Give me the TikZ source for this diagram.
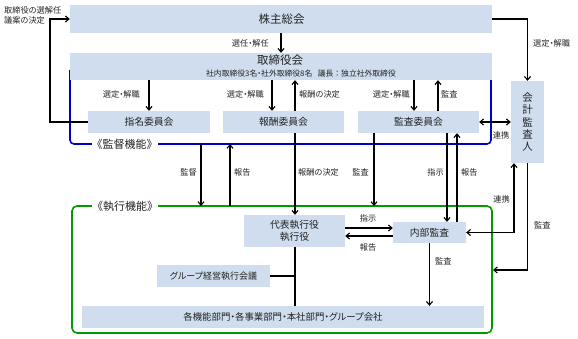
\documentclass[tikz,border=0pt]{standalone}
\usepackage{fontspec}
\setmainfont[RawFeature=+palt]{Noto Sans CJK JP}
\newfontfamily\fullw{Noto Sans CJK JP}
\usetikzlibrary{arrows.meta}
\definecolor{boxfill}{RGB}{207,221,238}
\definecolor{frameblue}{RGB}{0,0,200}
\definecolor{framegreen}{RGB}{0,155,0}
\definecolor{txt}{RGB}{35,35,35}
\tikzset{
  box/.style={fill=boxfill, draw=none, inner sep=0pt, text=txt, align=center},
  bigtext/.style={font=\fontsize{11.5}{13}\selectfont},
  midtext/.style={font=\fontsize{9.8}{12}\selectfont},
  lbl/.style={font=\fontsize{8.2}{9}\selectfont, text=txt, inner sep=1pt},
  arr/.style={line width=1.1pt, -{Straight Barb[length=3.5pt,width=6pt]}},
  darr/.style={line width=1.1pt, {Straight Barb[length=3.5pt,width=6pt]}-{Straight Barb[length=3.5pt,width=6pt]}},
  plain/.style={line width=1.1pt},
  framelbl/.style={font=\fullw\fontsize{11}{12}\selectfont, fill=white, inner sep=0pt, text=txt}
}
\begin{document}
\begin{tikzpicture}[x=1pt,y=-1pt]
\useasboundingbox (0,0) rectangle (578,339);
% x positions
\coordinate (xa) at (272,0);
\coordinate (xb) at (295,0);
\coordinate (xc) at (414,0);
\coordinate (xd) at (438,0);
\coordinate (xe) at (201,0);
\coordinate (xf) at (230,0);
\coordinate (xg) at (374,0);
\coordinate (xh) at (447,0);
\coordinate (xi) at (457,0);
\coordinate (xj) at (514,0);
\coordinate (xl) at (50,0);
\coordinate (ya) at (0,228);
\coordinate (yb) at (0,236);
\coordinate (bl) at (0,144);
\coordinate (gl) at (0,206);
\coordinate (gr) at (493,270);
% frames
\draw[frameblue, line width=1.6pt, rounded corners=4pt] (70,70) -- (70,144) -- (491,144) -- (491,70);
\draw[framegreen, line width=1.6pt, rounded corners=5pt] (72,206) rectangle (492,333);
\node[framelbl] (blbl) at (124.5,144) {《監督機能》};
\node[framelbl] (glbl) at (125,206) {《執行機能》};
% boxes
\node[box, minimum width=422pt, minimum height=28pt] (sh) at (281,19) {};
\node[bigtext, text=txt, inner sep=0pt] (shT) at (281.5,19) {株主総会};
\node[box, minimum width=422pt, minimum height=27pt] (bd) at (281,66.5) {};
\node[bigtext, text=txt, inner sep=0pt] (bdT) at (280,60) {取締役会};
\node[font=\fontsize{7.8}{9}\selectfont, text=txt, inner sep=0pt] (bdS) at (301,73.5) {社内取締役3名・社外取締役8名\hspace{0.7em}議長{\fullw ：}独立社外取締役};
\node[box, midtext, minimum width=122pt, minimum height=22pt] (nc) at (149,122) {指名委員会};
\node[box, midtext, minimum width=121pt, minimum height=22pt] (rc) at (283.5,122) {報酬委員会};
\node[box, midtext, minimum width=121pt, minimum height=22pt] (ac) at (418.5,122) {監査委員会};
\node[box, font=\fontsize{10.5}{12.3}\selectfont, minimum width=33pt, minimum height=82pt] (ca) at (527.5,122) {会\\計\\監\\査\\人};
\node[box, midtext, minimum width=101pt, minimum height=32pt] (ceo) at (294.5,231) {代表執行役\\執行役};
\node[box, midtext, minimum width=73pt, minimum height=21pt] (ia) at (429.5,232.5) {内部監査};
\node[box, font=\fontsize{9}{10}\selectfont, minimum width=113pt, minimum height=22pt] (gm) at (213.5,276) {グループ経営執行会議};
\node[box, font=\fontsize{9.4}{11}\selectfont, minimum width=402pt, minimum height=22pt] (dp) at (283,317) {各機能部門・各事業部門・本社部門・グループ会社};
% connectors
\draw[arr] (sh) -- (bd);
\draw[arr] (nc.west) -| (xl |- sh.west) -- (sh.west);
\draw[arr] (sh.east) -| (ca.north);
\draw[arr] (bd.south -| nc) -- (nc.north);
\draw[arr] (xa |- bd.south) -- (xa |- rc.north);
\draw[arr] (xb |- rc.north) -- (xb |- bd.south);
\draw[arr] (xc |- bd.south) -- (xc |- ac.north);
\draw[arr] (xd |- ac.north) -- (xd |- bd.south);
\draw[darr] (ac.east) -- (ca.west);
\draw[arr] (xe |- bl) -- (xe |- gl);
\draw[arr] (xf |- gl) -- (xf |- bl);
\draw[arr] (xb |- rc.south) -- (xb |- ceo.north);
\draw[arr] (xg |- ac.south) -- (xg |- gl);
\draw[arr] (xh |- ac.south) -- (xh |- ia.north);
\draw[arr] (xi |- ia.north) -- (xi |- ac.south);
\draw[arr] (ceo.east |- ya) -- (ia.west |- ya);
\draw[arr] (ia.west |- yb) -- (ceo.east |- yb);
\draw[darr] (xj |- ca.south) |- (ia.east);
\draw[arr] (ca.south) |- (gr);
\draw[plain] (gm.east) -- (xb |- gm.east);
\draw[plain] (xb |- ceo.south) -- (xb |- dp.north);
\draw[arr] (ia.south) -- (ia.south |- dp.north);
% labels
\node[lbl, anchor=west] (l1) at (3,10) {取締役の選解任};
\node[lbl, anchor=west] (l2) at (3,20) {議案の決定};
\node[lbl, anchor=east] (l3) at (270,43) {選任・解任};
\node[lbl, anchor=west] (l4) at (532,43) {選定・解職};
\node[lbl, anchor=east] (l5) at (141,94) {選定・解職};
\node[lbl, anchor=east] (l6) at (265,94) {選定・解職};
\node[lbl, anchor=west] (l7) at (298,94) {報酬の決定};
\node[lbl, anchor=east] (l8) at (411,94) {選定・解職};
\node[lbl, anchor=west] (l9) at (440,94) {監査};
\node[lbl] (l10) at (501,135) {連携};
\node[lbl, anchor=east] (l11) at (198,172) {監督};
\node[lbl, anchor=west] (l12) at (233,172) {報告};
\node[lbl, anchor=west] (l13) at (297,172) {報酬の決定};
\node[lbl, anchor=east] (l14) at (370,172) {監査};
\node[lbl, anchor=east] (l15) at (445,172) {指示};
\node[lbl, anchor=west] (l16) at (460,172) {報告};
\node[lbl, anchor=east] (l17) at (511,199) {連携};
\node[lbl, anchor=west] (l18) at (533,225) {監査};
\node[lbl] (l19) at (368,218) {指示};
\node[lbl] (l20) at (368,247) {報告};
\node[lbl, anchor=west] (l21) at (434,261) {監査};
\end{tikzpicture}
\end{document}
